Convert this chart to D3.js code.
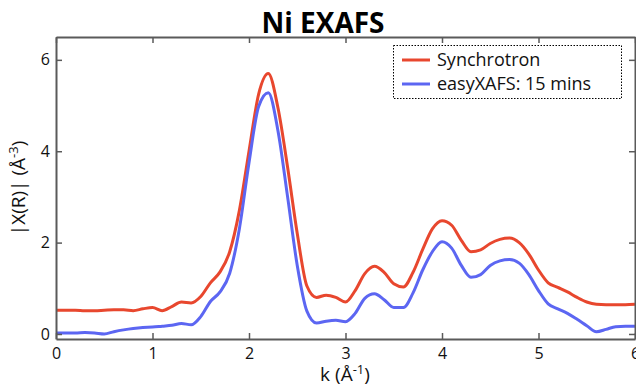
<!DOCTYPE html>
<html>
<head>
<meta charset="utf-8">
<script src="https://cdn.jsdelivr.net/npm/d3@7"></script>
<style>
  body { margin: 0; background: #fff; }
  text { font-family: "Open Sans", "Noto Sans", sans-serif; }
</style>
</head>
<body>
<div id="chart"></div>
<script>
// k grid (Å^-1) and the two |X(R)| traces
var kValues = d3.range(0, 61).map(function (i) { return +(i * 0.1).toFixed(1); });
var synchrotron = [0.52, 0.52, 0.52, 0.51, 0.51, 0.52, 0.53, 0.53, 0.51, 0.55,
  0.58, 0.51, 0.60, 0.70, 0.68, 0.82, 1.12, 1.36, 1.80, 2.70,
  4.00, 5.25, 5.70, 4.95, 3.65, 2.20, 1.05, 0.80, 0.85, 0.80,
  0.70, 0.95, 1.32, 1.48, 1.35, 1.10, 1.03, 1.35, 1.85, 2.30,
  2.48, 2.38, 2.05, 1.80, 1.84, 1.98, 2.07, 2.10, 2.00, 1.75,
  1.40, 1.12, 1.02, 0.92, 0.80, 0.70, 0.65, 0.64, 0.64, 0.64, 0.65];
var easyXAFS = [0.02, 0.02, 0.02, 0.03, 0.02, 0.00, 0.05, 0.09, 0.12, 0.14,
  0.15, 0.17, 0.19, 0.23, 0.20, 0.38, 0.71, 0.92, 1.33, 2.30,
  3.75, 4.98, 5.28, 4.45, 3.00, 1.50, 0.50, 0.24, 0.28, 0.30,
  0.27, 0.45, 0.78, 0.88, 0.75, 0.58, 0.58, 0.90, 1.40, 1.80,
  2.02, 1.88, 1.50, 1.24, 1.30, 1.50, 1.60, 1.63, 1.55, 1.30,
  0.95, 0.66, 0.55, 0.45, 0.32, 0.18, 0.05, 0.10, 0.16, 0.17, 0.17];
var seriesNames = ["Synchrotron", "easyXAFS: 15 mins"];
var seriesColors = ["#e8472e", "#5c66f2"];
var xTicks = [0, 1, 2, 3, 4, 5, 6];
var yTicks = [0, 2, 4, 6];

function init() {
  var w = 636, h = 389;
  var margin = { left: 56, right: 1, top: 37, bottom: 50 };
  var axisColor = "#5a5a5a";

  var svg = d3.select("#chart").append("svg")
    .attr("width", w)
    .attr("height", h);

  var xScale = d3.scaleLinear().domain([0, 6]).range([margin.left, 635]);
  var yScale = d3.scaleLinear().domain([-0.11, 6.5]).range([h - margin.bottom, margin.top]);

  var x0 = xScale.range()[0], x1 = xScale.range()[1];
  var y0 = yScale.range()[0], y1 = yScale.range()[1];

  // curves
  var series = [synchrotron, easyXAFS];
  var line = d3.line()
    .x(function (d, i) { return xScale(kValues[i]); })
    .y(function (d) { return yScale(d); })
    .curve(d3.curveMonotoneX);

  svg.selectAll("path.trace")
    .data(series)
    .enter()
    .append("path")
    .attr("class", "trace")
    .attr("d", line)
    .attr("fill", "none")
    .attr("stroke", function (d, i) { return seriesColors[i]; })
    .attr("stroke-width", 3)
    .attr("stroke-linejoin", "round");

  // axes: bottom, top, left, right (ticks pointing inward)
  var fmt = d3.format("d");
  var bottom = svg.append("g").attr("transform", "translate(0," + y0 + ")")
    .call(d3.axisBottom(xScale).tickValues(xTicks).tickSizeInner(-6).tickSizeOuter(0).tickPadding(9).tickFormat(fmt));
  var top = svg.append("g").attr("transform", "translate(0," + y1 + ")")
    .call(d3.axisTop(xScale).tickValues(xTicks).tickSizeInner(-6).tickSizeOuter(0).tickFormat(""));
  var left = svg.append("g").attr("transform", "translate(" + x0 + ",0)")
    .call(d3.axisLeft(yScale).tickValues(yTicks).tickSizeInner(-6).tickSizeOuter(0).tickPadding(6).tickFormat(fmt));
  var right = svg.append("g").attr("transform", "translate(" + x1 + ",0)")
    .call(d3.axisRight(yScale).tickValues(yTicks).tickSizeInner(-6).tickSizeOuter(0).tickFormat(""));

  [bottom, top, left, right].forEach(function (g) {
    g.select(".domain").attr("stroke", axisColor).attr("stroke-width", 2);
    g.selectAll(".tick line").attr("stroke", axisColor).attr("stroke-width", 1.5);
    g.selectAll(".tick text")
      .attr("fill", "#111")
      .attr("font-size", "16px")
      .style("font-family", "'Open Sans', sans-serif");
  });

  // title
  svg.append("text")
    .attr("x", 323)
    .attr("y", 33)
    .attr("text-anchor", "middle")
    .attr("font-size", "28px")
    .attr("font-weight", "bold")
    .attr("fill", "#000")
    .text("Ni EXAFS");

  // axis labels
  var xLabel = svg.append("text")
    .attr("x", 345)
    .attr("y", 381)
    .attr("text-anchor", "middle")
    .attr("font-size", "19px")
    .attr("fill", "#111");
  xLabel.append("tspan").text("k (Å");
  xLabel.append("tspan").attr("dy", -7).attr("font-size", "13px").text("-1");
  xLabel.append("tspan").attr("dy", 7).text(")");

  var yLabel = svg.append("text")
    .attr("transform", "translate(25,188) rotate(-90)")
    .attr("text-anchor", "middle")
    .attr("font-size", "19px")
    .attr("fill", "#111");
  yLabel.append("tspan").text("|X(R)| (Å");
  yLabel.append("tspan").attr("dy", -7).attr("font-size", "13px").text("-3");
  yLabel.append("tspan").attr("dy", 7).text(")");

  // legend
  var legend = svg.append("g");
  legend.append("rect")
    .attr("x", 393.5)
    .attr("y", 45.5)
    .attr("width", 228)
    .attr("height", 53)
    .attr("fill", "#fff")
    .attr("stroke", "#000")
    .attr("stroke-width", 1)
    .attr("stroke-dasharray", "1.5,1.5");

  seriesNames.forEach(function (name, i) {
    var ly = 60 + i * 24;
    legend.append("line")
      .attr("x1", 402).attr("x2", 430)
      .attr("y1", ly).attr("y2", ly)
      .attr("stroke", seriesColors[i])
      .attr("stroke-width", 3);
    legend.append("text")
      .attr("x", 437)
      .attr("y", ly + 6)
      .attr("font-size", "18px")
      .attr("fill", "#111")
      .text(name);
  });
}

window.onload = init;
</script>
</body>
</html>
